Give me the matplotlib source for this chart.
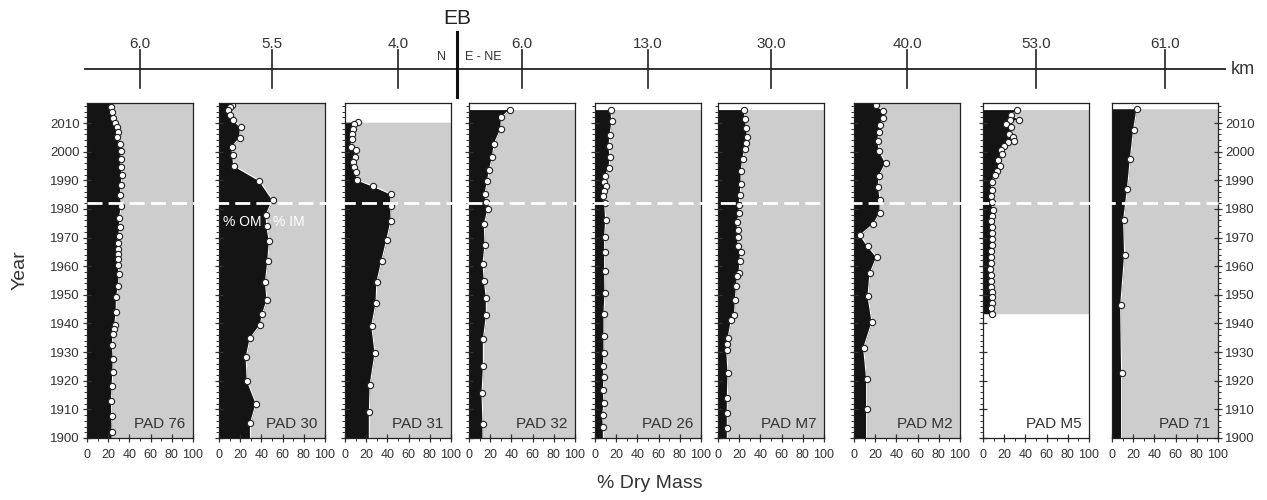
import matplotlib
matplotlib.use("Agg")
import matplotlib.pyplot as plt
import numpy as np

plt.rcParams['font.family'] = ['Liberation Sans', 'DejaVu Sans']

# core names, distance along the transect (km) and years covered by each core
cores = ['PAD 76', 'PAD 30', 'PAD 31', 'PAD 32', 'PAD 26',
         'PAD M7', 'PAD M2', 'PAD M5', 'PAD 71']
km_labels = ['6.0', '5.5', '4.0', '6.0', '13.0', '30.0', '40.0', '53.0', '61.0']
base_year = [1900, 1900, 1900, 1900, 1900, 1900, 1900, 1943.4, 1900]
top_year = [2017, 2017, 2010.3, 2014.7, 2014.7, 2014.7, 2017, 2014.7, 2015]

# % organic matter by year for each core
pad76_year = [2015.5, 2013.8, 2011.7, 2010, 2008.6, 2007, 2005, 2002.7, 2000.1,
              1997.4, 1994.6, 1991.7, 1988.5, 1984.7, 1981, 1977, 1973.7,
              1970.7, 1968, 1966, 1964.3, 1962.6, 1960.5, 1957.3, 1953.2,
              1949.2, 1943.9, 1939.6, 1938.2, 1936.3, 1932.4, 1927.6, 1922.9,
              1918.3, 1913, 1907.8, 1902.1]
pad76_om = [22.8, 23.7, 24.4, 26, 28, 29, 28.4, 31, 32.5, 32, 32, 33.4, 32,
            31.6, 32.5, 30.6, 31, 30, 29, 29.4, 29.7, 29, 29, 30.3, 29.7, 27.8,
            27.5, 26.2, 25.3, 24.4, 24, 24.7, 24.4, 23.7, 23.1, 23.4, 23.7]

pad30_year = [2016.4, 2015.5, 2014.4, 2012.7, 2011.2, 2008.5, 2004.8, 2001.5,
              1999, 1995.1, 1989.9, 1983.1, 1978, 1974, 1968.7, 1961.7, 1954.4,
              1948.2, 1943.3, 1939.6, 1934.8, 1928.2, 1920, 1912, 1905.2]
pad30_om = [12.5, 10, 8.4, 10.6, 13, 20.3, 19.4, 11.9, 13, 13.8, 38, 50.6,
            44.4, 45, 47.5, 46, 43.8, 45.3, 41, 39, 29.4, 25.6, 26.6, 35, 29.7]

pad31_year = [2010.3, 2009.6, 2007.9, 2006.2, 2004.4, 2001.5, 2000.7, 1998,
              1996.3, 1994.6, 1992.9, 1990.1, 1987.9, 1985.2, 1981.2, 1975.9,
              1969.3, 1961.9, 1954.4, 1947.1, 1939.2, 1929.7, 1918.6, 1909]
pad31_om = [12.6, 8.5, 7.3, 6.3, 6.3, 5.7, 10.4, 9.1, 7.3, 8.5, 10.1, 11.7,
            26.8, 43.2, 43.2, 43.5, 39.4, 34.7, 30, 29.3, 25.2, 28.4, 23.7, 23]

pad32_year = [2014.7, 2012, 2007.9, 2002.7, 1998, 1993.7, 1989.6, 1985.3,
              1982.4, 1980, 1974.8, 1967.5, 1960.8, 1954.7, 1948.9, 1942.8,
              1934.5, 1925, 1915.6, 1904.9]
pad32_om = [38.5, 30.6, 30, 23.7, 22.1, 19.2, 17.4, 15.1, 16.4, 18, 14.5,
            15.1, 13.2, 14.5, 16.4, 16.4, 13.6, 13.6, 12.3, 13.2]

pad26_year = [2014.7, 2010.6, 2005.9, 2001.9, 1998, 1994.3, 1991.6, 1989.4,
              1988.1, 1986.1, 1984.4, 1982, 1976.2, 1970.3, 1965, 1958.2,
              1950.6, 1943.3, 1935.7, 1929.6, 1925.3, 1921.2, 1916.9, 1912.2,
              1907.9, 1904]
pad26_om = [14.8, 16, 14.2, 13.2, 14.2, 13.2, 9.7, 8.5, 10.4, 8.8, 7.9, 9.1,
            10.1, 9.1, 9.1, 9.1, 9.4, 8.5, 8.5, 8.5, 7.9, 8.5, 7.9, 8.5, 7.2,
            7.9]

padm7_year = [2014.7, 2011.5, 2008.3, 2005, 2003, 2000.9, 1997.5, 1993.1,
              1988.7, 1985, 1981.5, 1978.6, 1975.5, 1972.8, 1970.1, 1966.9,
              1965, 1961.7, 1957.6, 1956.5, 1953, 1948.3, 1942.8, 1941.1,
              1934.9, 1932.8, 1930.8, 1922.7, 1914, 1908.7, 1903.5]
padm7_om = [24.3, 25.9, 26.8, 27.8, 26.5, 25.2, 23.3, 21.8, 21.8, 20.8, 19.9,
            20.2, 18, 18.6, 18.9, 18.9, 21.5, 20.5, 19.9, 18.3, 17.4, 16.4,
            15.5, 12.6, 9.5, 8.5, 8.2, 9.5, 8.8, 8.8, 8.8]

padm2_year = [2016.2, 2014.3, 2011.7, 2009.4, 2006.7, 2003.8, 2000.1, 1996,
              1991.6, 1987.5, 1983.2, 1978.6, 1974.7, 1970.8, 1966.9, 1963.1,
              1957.6, 1949.5, 1940.5, 1931.4, 1920.7, 1910.1]
padm2_om = [20.4, 27.7, 27, 24.8, 23.6, 22.3, 23.9, 29.9, 23.6, 23, 24.8,
            24.5, 18.2, 5.7, 13.2, 21.4, 15.1, 13.2, 17, 9.1, 11.9, 11.9]

padm5_year = [2014.7, 2012.9, 2011.2, 2011.2, 2009.6, 2008.5, 2006.2, 2005,
              2003.8, 2003.4, 2001.9, 2000.7, 1999.2, 1997.2, 1995.1, 1993.1,
              1991.7, 1989.4, 1986.7, 1984.4, 1982.4, 1979.7, 1977.7, 1975.7,
              1973.6, 1971.6, 1969.6, 1967.3, 1965.2, 1963.1, 1961.1, 1959.1,
              1957, 1954.9, 1952.9, 1951, 1949.1, 1947.1, 1945.4, 1943.4]
padm5_om = [32.4, 26.7, 34, 25.2, 21.4, 26.7, 24.5, 28.3, 28.9, 23.6, 19.8,
            17, 18.2, 14.5, 16.4, 13.2, 11, 8.2, 8.2, 7.5, 8.2, 9.4, 8.8, 7.9,
            8.8, 8.5, 8.2, 8.2, 7.5, 7.9, 7.5, 6.9, 7.5, 7.2, 7.9, 8.2, 8.8,
            8.2, 7.9, 8.8]

pad71_year = [2015, 2007.7, 1997.5, 1986.8, 1976.2, 1964, 1946.3, 1922.8]
pad71_om = [23.6, 20.4, 17.3, 14.5, 11, 11.9, 8.2, 9.1]

years = [pad76_year, pad30_year, pad31_year, pad32_year, pad26_year,
         padm7_year, padm2_year, padm5_year, pad71_year]
om = [pad76_om, pad30_om, pad31_om, pad32_om, pad26_om,
      padm7_om, padm2_om, padm5_om, pad71_om]

dam_year = 1982  # dashed reference line

W, H = 1267, 500
fig = plt.figure(figsize=(W / 100, H / 100), dpi=100)

# panel layout in pixels
lefts = [87, 219, 345, 469, 595, 718, 854, 983, 1112]
pw = 106
ptop, pbot = 103, 438
text_col = '#333333'
gray = '#cdcdcd'

axes = []
for i, name in enumerate(cores):
    ax = fig.add_axes([lefts[i] / W, 1 - pbot / H, pw / W, (pbot - ptop) / H])
    axes.append(ax)
    yr = np.array(years[i])
    v = np.array(om[i])
    order = np.argsort(yr)
    yr_s, v_s = yr[order], v[order]
    y = np.concatenate([[base_year[i]], yr_s, [top_year[i]]])
    x = np.interp(y, yr_s, v_s)
    ax.fill_betweenx(y, x, 100, color=gray, lw=0)
    ax.fill_betweenx(y, 0, x, color='#141414', lw=0)
    ax.plot(x, y, color='white', lw=0.8)
    ax.plot(v, yr, 'o', ms=4.5, mfc='white', mec='#222222', mew=0.8)
    ax.set_xlim(0, 100)
    ax.set_ylim(1900, 2017)
    ax.set_xticks(np.arange(0, 101, 20))
    ax.set_xticks(np.arange(0, 101, 10), minor=True)
    ax.set_yticks(np.arange(1900, 2011, 10))
    ax.set_yticks(np.arange(1900, 2017, 2), minor=True)
    ax.tick_params(axis='both', which='major', direction='inout', length=6,
                   width=0.9, colors=text_col, pad=2)
    ax.tick_params(axis='both', which='minor', direction='out', length=2.5,
                   width=0.7, colors=text_col)
    ax.tick_params(axis='x', labelsize=9, pad=5)
    ax.tick_params(axis='y', labelsize=9.5)
    if i == 0:
        ax.tick_params(axis='y', labelleft=True)
    elif i == len(cores) - 1:
        ax.yaxis.tick_right()
        ax.tick_params(axis='y', which='both', right=True, left=False,
                       labelright=True)
    else:
        ax.tick_params(axis='y', labelleft=False)
    for s in ax.spines.values():
        s.set_color('#222222')
        s.set_linewidth(0.9)
    ax.text(0.93, 0.02, name, transform=ax.transAxes, ha='right', va='bottom',
            fontsize=11, color=text_col)

axes[1].text(0.04, 0.645, '% OM', transform=axes[1].transAxes, color='white',
             fontsize=10, ha='left', va='center')
axes[1].text(0.51, 0.645, '% IM', transform=axes[1].transAxes, color='white',
             fontsize=10, ha='left', va='center')

# overlay in pixel coordinates for dashed line, km transect and labels
ov = fig.add_axes([0, 0, 1, 1], facecolor='none')
ov.set_xlim(0, W)
ov.set_ylim(H, 0)
ov.axis('off')

ydam = pbot - (dam_year - 1900) / (2017 - 1900) * (pbot - ptop)
ov.plot([lefts[0], lefts[-1] + pw], [ydam, ydam], color='white', lw=2,
        dashes=(5.4, 2.2))

ov.plot([85, 1225], [69, 69], color='#222222', lw=1.3)
for i, lab in enumerate(km_labels):
    xc = lefts[i] + pw / 2
    ov.plot([xc, xc], [50, 88], color='#222222', lw=1.2)
    ov.text(xc, 44, lab, ha='center', va='center', fontsize=11,
            color=text_col)
ov.text(1231, 70, 'km', ha='left', va='center', fontsize=13, color=text_col)
ov.plot([457, 457], [32, 97], color='#111111', lw=2.2)
ov.text(457, 18, 'EB', ha='center', va='center', fontsize=15, color='#222222')
ov.text(446, 57, 'N', ha='right', va='center', fontsize=9, color=text_col)
ov.text(465, 57, 'E - NE', ha='left', va='center', fontsize=9, color=text_col)

ov.text(20, 270, 'Year', rotation=90, ha='center', va='center', fontsize=14,
        color=text_col)
ov.text(650, 484, '% Dry Mass', ha='center', va='center', fontsize=14,
        color=text_col)

fig.savefig('out.png', dpi=100)
